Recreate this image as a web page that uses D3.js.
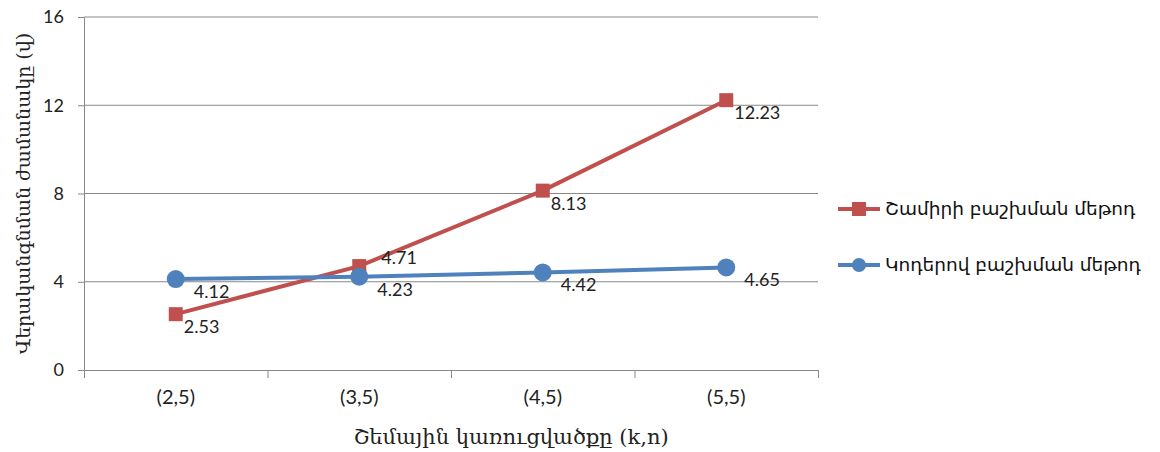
<!DOCTYPE html>
<html>
<head>
<meta charset="utf-8">
<script src="https://cdn.jsdelivr.net/npm/d3@7"></script>
<style>
  body { margin: 0; background: #fff; }
  .tick text { font-family: Lato, "Open Sans", sans-serif; font-size: 18px; fill: #222; }
  .lbl { font-family: Lato, "Open Sans", sans-serif; font-size: 18px; fill: #222; }
  .title { font-family: "DejaVu Serif", serif; font-size: 19px; fill: #222; }
  .legend { font-family: "DejaVu Sans", sans-serif; font-size: 18.5px; fill: #111; }
</style>
</head>
<body>
<div id="chart"></div>
<script>
var svgWidth = 1160;
var svgHeight = 452;

// data
var categories = ["(2,5)", "(3,5)", "(4,5)", "(5,5)"];
var shamirValues = [2.53, 4.71, 8.13, 12.23];
var codeValues = [4.12, 4.23, 4.42, 4.65];
var seriesNames = ["Շամիրի բաշխման մեթոդ", "Կոդերով բաշխման մեթոդ"];
var yTicks = [0, 4, 8, 12, 16];

var margin = { top: 17, right: 342, bottom: 82, left: 84 };
var chartWidth = svgWidth - margin.left - margin.right;
var chartHeight = svgHeight - margin.top - margin.bottom;

var svg = d3.select("#chart")
  .append("svg")
  .attr("width", svgWidth)
  .attr("height", svgHeight);

var chartGroup = svg.append("g")
  .attr("transform", `translate(${margin.left}, ${margin.top})`);

var xScale = d3.scaleBand()
  .domain(categories)
  .range([0, chartWidth]);

var yScale = d3.scaleLinear()
  .domain([0, 16])
  .range([chartHeight, 0]);

// gridlines
chartGroup.append("g")
  .selectAll("line")
  .data(yTicks.slice(1))
  .enter().append("line")
  .attr("x1", 0)
  .attr("x2", chartWidth)
  .attr("y1", d => yScale(d))
  .attr("y2", d => yScale(d))
  .attr("stroke", "#888")
  .attr("stroke-width", 1);

var leftAxis = d3.axisLeft(yScale).tickValues(yTicks).tickSize(6).tickPadding(14);
var yAxisG = chartGroup.append("g").call(leftAxis);
yAxisG.select(".domain").attr("stroke", "#888");
yAxisG.selectAll(".tick line").attr("stroke", "#888");

// bottom axis, ticks between categories
var bottomAxis = d3.axisBottom(xScale).tickSize(0).tickPadding(20);
var xAxisG = chartGroup.append("g")
  .attr("transform", `translate(0, ${chartHeight})`)
  .call(bottomAxis);
xAxisG.select(".domain").attr("stroke", "#888");
xAxisG.selectAll(".tick text").style("font-size", "20px");

var bounds = categories.map(c => xScale(c)).concat([chartWidth]);
xAxisG.selectAll(".sep")
  .data(bounds)
  .enter().append("line")
  .attr("x1", d => d + 0.5)
  .attr("x2", d => d + 0.5)
  .attr("y1", 0)
  .attr("y2", 8)
  .attr("stroke", "#888");

var cx = d => xScale(d) + xScale.bandwidth() / 2;

var line = d3.line()
  .x((d, i) => cx(categories[i]))
  .y(d => yScale(d));

var red = "#C0504D";
var blue = "#4F81BD";

// red series
chartGroup.append("path")
  .datum(shamirValues)
  .attr("d", line)
  .attr("fill", "none")
  .attr("stroke", red)
  .attr("stroke-width", 4);

// blue series
chartGroup.append("path")
  .datum(codeValues)
  .attr("d", line)
  .attr("fill", "none")
  .attr("stroke", blue)
  .attr("stroke-width", 4);

chartGroup.selectAll(".sq")
  .data(shamirValues)
  .enter().append("rect")
  .attr("x", (d, i) => cx(categories[i]) - 7)
  .attr("y", d => yScale(d) - 7)
  .attr("width", 14)
  .attr("height", 14)
  .attr("fill", red);

chartGroup.selectAll(".dot")
  .data(codeValues)
  .enter().append("circle")
  .attr("cx", (d, i) => cx(categories[i]))
  .attr("cy", d => yScale(d))
  .attr("r", 9)
  .attr("fill", blue);

// data labels: right-below, except red when just above blue
var nearAbove = (d, i) => d > codeValues[i] && d - codeValues[i] < 1.5;

chartGroup.selectAll(".lblR")
  .data(shamirValues)
  .enter().append("text")
  .classed("lbl", true)
  .attr("x", (d, i) => cx(categories[i]) + (nearAbove(d, i) ? 22 : 8))
  .attr("y", (d, i) => yScale(d) + (nearAbove(d, i) ? -2 : 19))
  .text(d => d.toFixed(2));

chartGroup.selectAll(".lblB")
  .data(codeValues)
  .enter().append("text")
  .classed("lbl", true)
  .attr("x", (d, i) => cx(categories[i]) + 18)
  .attr("y", d => yScale(d) + 19)
  .text(d => d.toFixed(2));

// axis titles
svg.append("text")
  .classed("title", true)
  .attr("transform", `translate(30, ${margin.top + chartHeight / 2}) rotate(-90)`)
  .attr("text-anchor", "middle")
  .text("Վերականգնման ժամանակը (վ)");

svg.append("text")
  .classed("title", true)
  .attr("x", 511)
  .attr("y", 444)
  .attr("text-anchor", "middle")
  .style("font-size", "21px")
  .text("Շեմային կառուցվածքը (k,n)");

// legend
var legend = svg.append("g").attr("transform", "translate(838, 0)");
var legendY = [209, 265];
[red, blue].forEach(function(col, i) {
  var g = legend.append("g").attr("transform", `translate(0, ${legendY[i]})`);
  g.append("line").attr("x1", 0).attr("x2", 42).attr("stroke", col).attr("stroke-width", 4);
  if (i === 0) {
    g.append("rect").attr("x", 14).attr("y", -7).attr("width", 14).attr("height", 14).attr("fill", col);
  } else {
    g.append("circle").attr("cx", 21).attr("r", 7).attr("fill", col);
  }
  g.append("text").classed("legend", true).attr("x", 47).attr("y", 6).text(seriesNames[i]);
});
</script>
</body>
</html>
